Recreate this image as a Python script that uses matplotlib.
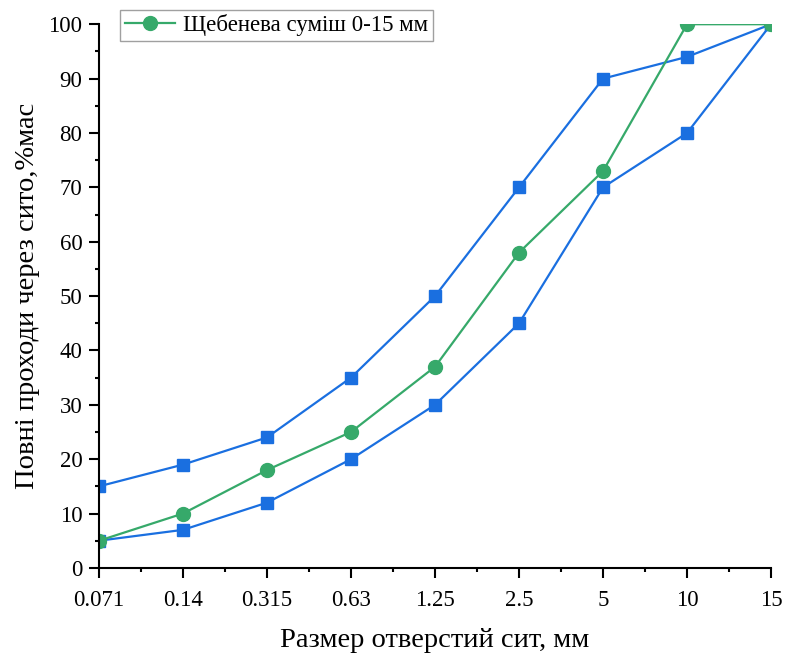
import matplotlib.pyplot as plt
from matplotlib.ticker import MultipleLocator, AutoMinorLocator
import numpy as np

sizes = ['0.071', '0.14', '0.315', '0.63', '1.25', '2.5', '5', '10', '15']
upper = [15, 19, 24, 35, 50, 70, 90, 94, 100]      # upper limit
lower = [5, 7, 12, 20, 30, 45, 70, 80, 100]        # lower limit
mix = [5, 10, 18, 25, 37, 58, 73, 100, 100]        # Щебенева суміш 0-15 мм

plt.rcParams['font.family'] = ['Liberation Serif', 'DejaVu Serif']

blue = '#1a6fe0'
green = '#36a96a'

fig = plt.figure(figsize=(7.86, 6.55), dpi=100)
ax = fig.add_axes([0.126, 0.133, 0.855, 0.830])

x = np.arange(len(sizes))
ax.plot(x, upper, color=blue, marker='s', markersize=9, lw=1.6)
ax.plot(x, lower, color=blue, marker='s', markersize=9, lw=1.6)
ax.plot(x, mix, color=green, marker='o', markersize=10, lw=1.6, label='Щебенева суміш 0-15 мм')

ax.set_xlim(0, 8)
ax.set_ylim(0, 100)
ax.set_xticks(x)
ax.set_xticklabels(sizes)
ax.xaxis.set_minor_locator(AutoMinorLocator(2))
ax.yaxis.set_major_locator(MultipleLocator(10))
ax.yaxis.set_minor_locator(MultipleLocator(5))

ax.spines['top'].set_visible(False)
ax.spines['right'].set_visible(False)
ax.spines['left'].set_linewidth(1.5)
ax.spines['bottom'].set_linewidth(1.5)
ax.tick_params(which='major', direction='out', length=7, width=1.5, labelsize=16.5)
ax.tick_params(axis='x', which='major', pad=9)
ax.tick_params(axis='y', which='major', pad=5)
ax.tick_params(which='minor', direction='out', length=3, width=1.5)

ax.set_xlabel('Размер отверстий сит, мм', fontsize=20.5, labelpad=12)
ax.set_ylabel('Повні проходи через сито,%мас', fontsize=20.5, labelpad=6)

leg = ax.legend(loc='upper left', bbox_to_anchor=(0.153, 0.985), bbox_transform=fig.transFigure,
                fontsize=16.5, frameon=True, fancybox=False, edgecolor='#888888',
                borderpad=0.2, handlelength=2.2, handletextpad=0.35, borderaxespad=0)
leg.get_frame().set_linewidth(1.0)

fig.savefig('out.png', dpi=100)
